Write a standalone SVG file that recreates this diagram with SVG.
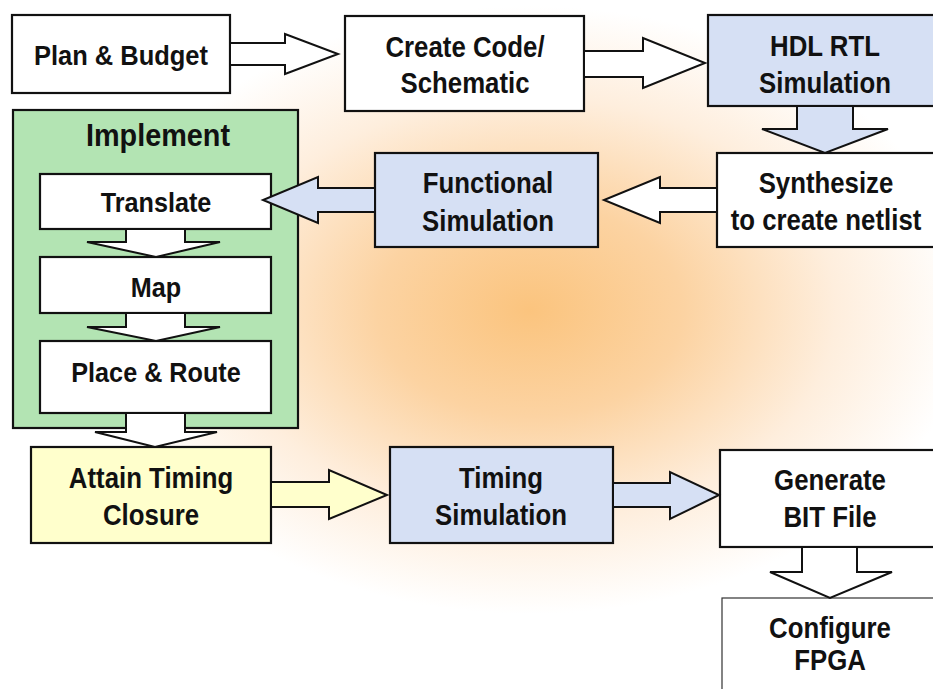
<svg xmlns="http://www.w3.org/2000/svg" width="933" height="689" viewBox="0 0 933 689">
<defs>
<radialGradient id="bg" cx="530" cy="310" r="380" gradientUnits="userSpaceOnUse" gradientTransform="translate(530 310) scale(1.15 0.8) translate(-530 -310)">
<stop offset="0" stop-color="#fbc47e"/>
<stop offset="0.35" stop-color="#fcd3a2"/>
<stop offset="0.7" stop-color="#feeedd"/>
<stop offset="1" stop-color="#ffffff"/>
</radialGradient>
<style>
.box{stroke:#111;stroke-width:2.2;}
.w{fill:#ffffff;}
.b{fill:#d6e0f4;}
.g{fill:#b3e4b3;}
.y{fill:#ffffcc;}
.ar{stroke:#111;stroke-width:2;stroke-linejoin:miter;}
text{font-family:"Liberation Sans",Arial,sans-serif;font-weight:bold;font-size:30px;fill:#111;text-anchor:middle;}
text.s{font-size:28px;}
text.l{font-size:32px;}
</style>
</defs>
<rect x="0" y="0" width="933" height="689" fill="#ffffff"/>
<rect x="0" y="0" width="933" height="689" fill="url(#bg)"/>

<g id="plan"><rect class="box w" x="12" y="15" width="218" height="78"/><text class="s" transform="translate(121 65) scale(0.91 1)">Plan &amp; Budget</text></g>
<g id="create"><rect class="box w" x="345" y="16" width="239" height="95"/><text transform="translate(465 57) scale(0.86 1)">Create Code/</text><text transform="translate(465 93) scale(0.86 1)">Schematic</text></g>
<g id="hdl"><rect class="box b" x="708" y="15" width="234" height="91"/><text transform="translate(825 56) scale(0.86 1)">HDL RTL</text><text transform="translate(825 93) scale(0.86 1)">Simulation</text></g>
<g id="implement"><rect class="box g" x="13" y="110" width="285" height="318"/><text class="l" transform="translate(158 146) scale(0.9 1)">Implement</text></g>
<g id="translate"><rect class="box w" x="40" y="174" width="231" height="55"/><text class="s" transform="translate(156 212) scale(0.9 1)">Translate</text></g>
<g id="map"><rect class="box w" x="40" y="257" width="231" height="56"/><text class="s" transform="translate(156 297) scale(0.9 1)">Map</text></g>
<g id="place"><rect class="box w" x="40" y="341" width="231" height="72"/><text class="s" transform="translate(156 382) scale(0.9 1)">Place &amp; Route</text></g>
<g id="functional"><rect class="box b" x="375" y="153" width="223" height="94"/><text transform="translate(488 193) scale(0.86 1)">Functional</text><text transform="translate(488 231) scale(0.86 1)">Simulation</text></g>
<g id="synth"><rect class="box w" x="717" y="153" width="222" height="94"/><text transform="translate(826 193) scale(0.86 1)">Synthesize</text><text transform="translate(826 230) scale(0.86 1)">to create netlist</text></g>
<g id="attain"><rect class="box y" x="31" y="447" width="240" height="96"/><text transform="translate(151 488) scale(0.86 1)">Attain Timing</text><text transform="translate(151 525) scale(0.86 1)">Closure</text></g>
<g id="timing"><rect class="box b" x="390" y="447" width="223" height="96"/><text transform="translate(501 488) scale(0.86 1)">Timing</text><text transform="translate(501 525) scale(0.86 1)">Simulation</text></g>
<g id="generate"><rect class="box w" x="720" y="450" width="220" height="97"/><text transform="translate(830 490) scale(0.86 1)">Generate</text><text transform="translate(830 527) scale(0.86 1)">BIT File</text></g>
<g id="configure"><rect x="722" y="598" width="216" height="100" fill="#ffffff" stroke="#333" stroke-width="1.2"/><text transform="translate(830 638) scale(0.86 1)">Configure</text><text transform="translate(830 670) scale(0.86 1)">FPGA</text></g>

<g id="connectors">
<polygon class="ar w" points="230,43 285,43 285,34 338,54 285,74 285,65 230,65"/>
<polygon class="ar w" points="584,51 643,51 643,38 705,63 643,88 643,77 584,77"/>
<polygon class="ar b" points="797,106 797,129 762,129 825,153 888,129 853,129 853,106"/>
<polygon class="ar w" points="717,188 660,188 660,177 604,200 660,223 660,212 717,212"/>
<polygon class="ar b" points="375,188 318,188 318,177 263,200 318,223 318,212 375,212"/>
<polygon class="ar w" points="126,229 126,242 87,242 156,257 220,242 185,242 185,229"/>
<polygon class="ar w" points="126,313 126,327 87,327 156,341 220,327 185,327 185,313"/>
<polygon class="ar w" points="126,413 126,432 95,432 155,447 217,432 185,432 185,413"/>
<polygon class="ar y" points="271,482 329,482 329,470 387,495 329,519 329,507 271,507"/>
<polygon class="ar b" points="613,483 670,483 670,472 719,495 670,519 670,507 613,507"/>
<polygon class="ar w" points="802,547 802,572 770,572 830,598 892,572 857,572 857,547"/>
</g>
</svg>
